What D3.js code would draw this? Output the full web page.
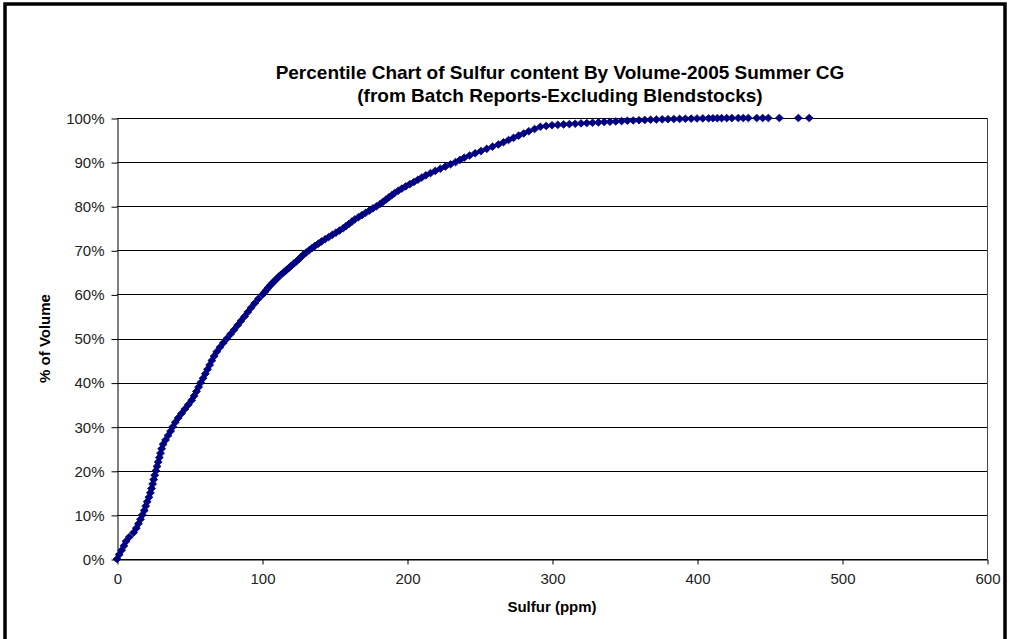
<!DOCTYPE html>
<html><head><meta charset="utf-8">
<script src="https://cdn.jsdelivr.net/npm/d3@7"></script>
<style>
body{margin:0;background:#fff}
svg{display:block}
text{font-family:Arial,"Liberation Sans",sans-serif}
</style>
</head><body>
<svg id="chart" width="1010" height="639"></svg>
<script>
const titleLines = ["Percentile Chart of Sulfur content By Volume-2005 Summer CG", "(from Batch Reports-Excluding Blendstocks)"];
const xAxisTitle = "Sulfur (ppm)";
const yAxisTitle = "% of Volume";
const xTicks = [0, 100, 200, 300, 400, 500, 600];
const yTicks = [0, 10, 20, 30, 40, 50, 60, 70, 80, 90, 100];

// cumulative % of volume (y) versus sulfur content in ppm (x)
const volumePct = [
  0,1,2,3,4,5,6,7,8,9,10,11,12,13,14,15,16,17,18,19,20,21,22,23,24,25,26,27,28,29,
  30,31,32,33,34,35,36,37,38,39,40,41,42,43,44,45,46,47,48,49,50,51,52,53,54,55,56,57,58,59,
  60,60.5,61,61.5,62,62.5,63,63.5,64,64.5,65,65.5,66,66.5,67,67.5,68,68.5,69,69.5,
  70,70.5,71,71.5,72,72.5,73,73.5,74,74.5,75,75.5,76,76.5,77,77.5,78,78.5,79,79.5,
  80,80.5,81,81.5,82,82.5,83,83.5,84,84.5,85,85.5,86,86.5,87,87.5,88,88.5,89,89.5,
  90,90.5,91,91.5,92,92.5,93,93.5,94,94.5,95,95.5,96,96.5,97,97.5,
  98,98.2,98.35,98.45,98.55,98.62,98.7,98.78,98.85,98.92,99,99.08,99.15,99.22,99.3,99.37,
  99.44,99.5,99.56,99.61,99.65,99.69,99.73,99.77,99.8,99.83,99.86,99.89,99.91,99.93,99.95,
  99.96,99.97,99.975,99.98,99.985,99.988,99.99,99.993,99.995,99.997,99.998,99.999,100
];
const sulfurPpm = [
  0,1.5,3.2,4.8,6.2,8.5,11.5,13.3,14.8,16.2,17.5,18.8,19.8,20.8,22,23,23.8,24.6,25.3,26,
  26.8,27.6,28.4,29.2,30,30.8,31.8,33.5,35.2,37,38.5,40.2,42.2,44.5,46.8,49.2,51.5,53.2,54.8,56.3,
  57.8,59.4,60.9,62.4,63.9,65.4,67,68.8,71,73.3,75.8,78.3,80.8,83.2,85.5,88,90.2,92.5,95,97.5,
  100.5,101.8,103,104.2,105.5,107,108.5,110,111.5,113.2,115,116.8,118.5,120.2,122,123.8,125.5,127,128.5,130.5,
  132.5,134.5,136.5,138.8,141,143.5,146,148.5,151,153.5,156,158,160,162,164,166.5,169,171.5,174,176.5,
  179,181.5,183.5,185.5,187.5,189.5,191.5,194,196.5,199.2,202,204.8,207.5,210.2,213,216.2,219.5,223,226.5,230,
  233.5,236.5,239.5,243.2,247,251,255,259,263,266.5,270,273.5,277,280.5,284,288,
  292,296,300,304,308,312,316,320,324,328,332,336,340,344,348,352,
  356,360,364,368,372,376,380,384,388,392,396,400,404,408,411,
  414,417,420.5,424,428.5,431.9,435.4,441.2,445.3,449.2,456.8,469.9,477.4
];

const svg = d3.select("#chart");
const plot = {left: 117, right: 987, top: 118, bottom: 559};
const x = d3.scaleLinear().domain([0, 600]).range([plot.left, plot.right]);
const y = d3.scaleLinear().domain([0, 100]).range([plot.bottom, plot.top]);

// chart area frame
svg.append("rect").attr("x", 5).attr("y", 4).attr("width", 1000).attr("height", 700)
  .attr("fill", "#fff").attr("stroke", "#000").attr("stroke-width", 3.5);

// gridlines
svg.append("g").selectAll("line").data(yTicks).join("line")
  .attr("x1", x(0)).attr("x2", x(600))
  .attr("y1", d => Math.round(y(d)) + 0.5).attr("y2", d => Math.round(y(d)) + 0.5)
  .attr("stroke", "#000").attr("stroke-width", 1);
// right border of plot area
svg.append("line").attr("x1", x(600) + 0.5).attr("x2", x(600) + 0.5)
  .attr("y1", y(100)).attr("y2", y(0)).attr("stroke", "#444");

const yAxis = svg.append("g").attr("transform", `translate(${plot.left + 0.5},0.5)`)
  .call(d3.axisLeft(y).tickValues(yTicks).tickFormat(d => d + "%").tickSize(6).tickSizeOuter(0).tickPadding(7));
const xAxis = svg.append("g").attr("transform", `translate(0.5,${plot.bottom + 0.5})`)
  .call(d3.axisBottom(x).tickValues(xTicks).tickSize(5).tickSizeOuter(0).tickPadding(9));
[yAxis, xAxis].forEach(g => {
  g.selectAll("text").attr("font-family", "Arial, 'Liberation Sans', sans-serif").attr("font-size", 15).attr("fill", "#222");
  g.selectAll("line").attr("stroke", "#000");
  g.select(".domain").attr("stroke", "#000");
});

// diamond markers
const pts = volumePct.map((v, i) => ({v, s: sulfurPpm[i]}));
svg.append("g").selectAll("path").data(pts).join("path")
  .attr("transform", d => `translate(${x(d.s)},${y(d.v)})`)
  .attr("d", "M0,-3.8L4,0L0,3.8L-4,0Z")
  .attr("fill", "#000080").attr("stroke", "#000080").attr("stroke-width", 0.8);

// titles
svg.append("g").selectAll("text").data(titleLines).join("text")
  .attr("x", 560).attr("y", (d, i) => 79 + i * 23)
  .attr("text-anchor", "middle").attr("font-weight", "bold").attr("font-size", 19)
  .text(d => d);
svg.append("text").attr("x", (plot.left + plot.right) / 2).attr("y", 612)
  .attr("text-anchor", "middle").attr("font-weight", "bold").attr("font-size", 15).text(xAxisTitle);
svg.append("text").attr("transform", `translate(50,${(plot.top + plot.bottom) / 2}) rotate(-90)`)
  .attr("text-anchor", "middle").attr("font-weight", "bold").attr("font-size", 15).text(yAxisTitle);
</script>
</body></html>
